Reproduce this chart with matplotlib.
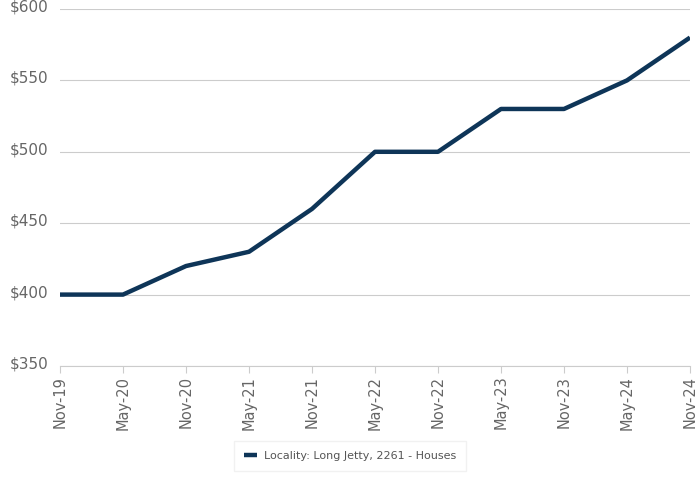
import matplotlib
matplotlib.use("Agg")
import matplotlib.pyplot as plt
import matplotlib.transforms as mtrans

categories = ["Nov-19", "May-20", "Nov-20", "May-21", "Nov-21", "May-22",
              "Nov-22", "May-23", "Nov-23", "May-24", "Nov-24"]
values = [400, 400, 420, 430, 460, 500, 500, 530, 530, 550, 580]
yticks = [350, 400, 450, 500, 550, 600]
series_name = "Locality: Long Jetty, 2261 - Houses"

fig = plt.figure(figsize=(7, 5), dpi=100)
ax = fig.add_axes([60/700, 1-366/500, 630/700, 357/500])
x = list(range(len(categories)))
ax.plot(x, values, color="#0e3558", linewidth=3.2, label=series_name,
        solid_capstyle="butt", zorder=3)
ax.set_xlim(0, len(categories)-1)
ax.set_ylim(350, 600)
ax.set_yticks(yticks)
ax.set_yticklabels([f"${v}" for v in yticks], color="#666666", fontsize=11)
ax.set_xticks(x)
ax.set_xticklabels(categories, rotation=90, color="#666666", fontsize=10.5)
ax.grid(axis="y", color="#cccccc", linewidth=0.8)
ax.tick_params(axis="y", length=0, pad=0)
ax.tick_params(axis="x", length=5, color="#cccccc", pad=2)
for s in ["top", "right", "left"]:
    ax.spines[s].set_visible(False)
ax.spines["bottom"].set_color("#cccccc")
ax.spines["bottom"].set_linewidth(0.8)
off = mtrans.ScaledTranslation(-50/100, 2/100, fig.dpi_scale_trans)
for lbl in ax.get_yticklabels():
    lbl.set_horizontalalignment("left")
    lbl.set_verticalalignment("center")
    lbl.set_transform(lbl.get_transform() + off)
leg = fig.legend(loc="center", bbox_to_anchor=(350/700, 1-456/500), fontsize=8,
                 frameon=True, fancybox=False, edgecolor="#eeeeee",
                 handlelength=1.2, labelcolor="#555555", borderpad=0.9,
                 borderaxespad=0, handletextpad=0.6)
fig.savefig("out.png", dpi=100)
